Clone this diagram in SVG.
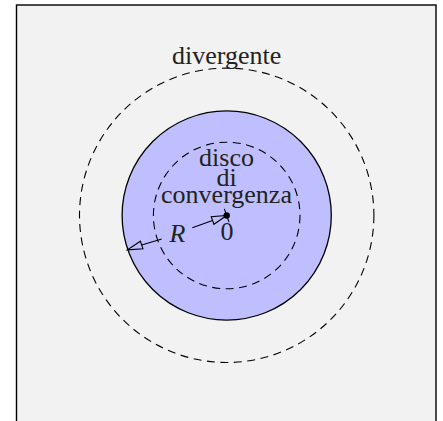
<svg xmlns="http://www.w3.org/2000/svg" width="443" height="421" viewBox="0 0 443 421">
<style>
.t{font-family:"Liberation Serif","DejaVu Serif",serif;font-size:26px;fill:#222;text-anchor:middle}
.dash{fill:none;stroke:#000;stroke-width:1.1;stroke-dasharray:8 5.5}
.ln{fill:none;stroke:#000;stroke-width:1.1}
</style>
<rect x="16.5" y="5" width="419.5" height="430" fill="#f2f2f2" stroke="#000" stroke-width="1.4"/>
<g id="divergente">
<circle class="dash" cx="226.7" cy="215.3" r="147.2"/>
<text class="t" x="226.7" y="64.3">divergente</text>
</g>
<g id="disco">
<circle cx="226.7" cy="215.5" r="104.6" fill="#bfbfff" stroke="#000" stroke-width="1.3"/>
<circle class="dash" cx="226.7" cy="215.5" r="73.3"/>
<text class="t" x="226.5" y="165.7">disco</text>
<text class="t" x="226.5" y="186">di</text>
<text class="t" x="226.5" y="202.7">convergenza</text>
</g>
<g id="origine">
<circle cx="226.7" cy="215.5" r="3.2" fill="#000"/>
<text class="t" x="227" y="240">0</text>
</g>
<g id="connectors">
<line class="ln" x1="192.3" y1="227.7" x2="212.57" y2="220.51"/>
<polygon class="ln" points="226.7,215.5 213.91,224.28 211.23,216.74"/>
<line class="ln" x1="229.04" y1="222.09" x2="224.36" y2="208.91"/>
<line class="ln" x1="161.7" y1="239" x2="141.68" y2="244.98"/>
<polygon class="ln" points="127.5,249.9 142.99,248.76 140.37,241.2"/>
<text class="t" x="177.5" y="241.7" font-style="italic">R</text>
</g>
</svg>
